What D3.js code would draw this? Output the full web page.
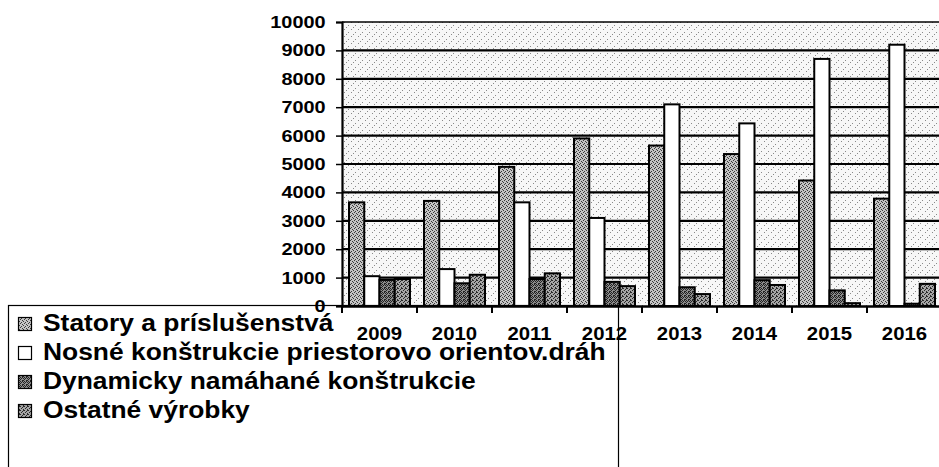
<!DOCTYPE html>
<html>
<head>
<meta charset="utf-8">
<script src="https://cdn.jsdelivr.net/npm/d3@7"></script>
<style>
  body { margin: 0; background: #fff; }
  svg { display: block; font-family: "Liberation Sans", Arial, sans-serif; font-weight: bold; }
</style>
</head>
<body>
<script>
// chart values
var years = ['2009', '2010', '2011', '2012', '2013', '2014', '2015', '2016'];
var seriesNames = ['Statory a príslušenstvá', 'Nosné konštrukcie priestorovo orientov.dráh',
                   'Dynamicky namáhané konštrukcie', 'Ostatné výrobky'];
var statory = [3650, 3700, 4900, 5900, 5650, 5350, 4420, 3780];
var nosne = [1050, 1300, 3650, 3100, 7100, 6430, 8700, 9200];
var dynamicky = [920, 800, 950, 850, 660, 910, 550, 80];
var ostatne = [950, 1100, 1150, 700, 420, 740, 100, 780];
var yTicks = [0, 1000, 2000, 3000, 4000, 5000, 6000, 7000, 8000, 9000, 10000];

var w = 939;
var h = 467;

var series = [statory, nosne, dynamicky, ostatne];
var fills = ['url(#pStat)', '#fff', 'url(#pDyn)', 'url(#pOst)'];

var svg = d3.select('body')
            .append('svg')
            .attr('width', w)
            .attr('height', h);

// stipple patterns like the scanned original
var defs = svg.append('defs');
function stipple(id, base, dot, pts, size) {
    var p = defs.append('pattern')
        .attr('id', id)
        .attr('patternUnits', 'userSpaceOnUse')
        .attr('width', size)
        .attr('height', size);
    p.append('rect').attr('width', size).attr('height', size).attr('fill', base);
    pts.forEach(function(q) {
        p.append('rect').attr('x', q[0]).attr('y', q[1]).attr('width', 1).attr('height', 1).attr('fill', dot);
    });
}
stipple('pBg', '#f7f7f7', '#8a8a8a', [[1, 1], [5, 4], [3, 6]], 7);
stipple('pStat', '#c4c4c4', '#3a3a3a', [[0, 0], [2, 1], [1, 3], [3, 2]], 4);
stipple('pDyn', '#8c8c8c', '#222', [[0, 0], [2, 0], [1, 1], [3, 1], [0, 2], [2, 3], [3, 3]], 4);
stipple('pOst', '#a6a6a6', '#2a2a2a', [[0, 0], [2, 1], [1, 2], [3, 3], [3, 0]], 4);

var x = d3.scaleBand()
          .domain(years)
          .range([342, 942])
          .padding(0);

var xs = d3.scaleBand()
           .domain(d3.range(series.length))
           .range([7, 68])
           .padding(0);

var y = d3.scaleLinear()
          .domain([0, 10000])
          .range([306, 22]);

// plot background
svg.append('rect')
   .attr('x', x.range()[0])
   .attr('y', y(10000))
   .attr('width', x.range()[1] - x.range()[0])
   .attr('height', y(0) - y(10000))
   .attr('fill', 'url(#pBg)');

// grid lines
svg.append('g')
   .selectAll('line')
   .data(yTicks.slice(1))
   .join('line')
   .attr('x1', x.range()[0])
   .attr('x2', x.range()[1])
   .attr('y1', function(d) { return y(d); })
   .attr('y2', function(d) { return y(d); })
   .attr('stroke', '#000')
   .attr('stroke-width', function(d) { return d == 10000 ? 1.5 : 2.2; });

// bars
var groups = svg.append('g')
   .selectAll('g')
   .data(years)
   .join('g')
   .attr('transform', function(d) { return 'translate(' + x(d) + ',0)'; });

groups.selectAll('rect')
   .data(function(d, i) { return series.map(function(s, k) { return { k: k, v: s[i] }; }); })
   .join('rect')
   .attr('x', function(d) { return xs(d.k); })
   .attr('y', function(d) { return y(d.v); })
   .attr('width', xs.bandwidth())
   .attr('height', function(d) { return y(0) - y(d.v); })
   .attr('fill', function(d) { return fills[d.k]; })
   .attr('stroke', '#000')
   .attr('stroke-width', 2);

// y axis
var yAxis = svg.append('g')
   .attr('transform', 'translate(' + x.range()[0] + ',0)')
   .call(d3.axisLeft(y).tickValues(yTicks).tickSize(6).tickPadding(8).tickFormat(d3.format('d')));
yAxis.select('.domain').attr('stroke-width', 2.2);
yAxis.selectAll('line').attr('stroke-width', 1.5);
yAxis.selectAll('text')
     .attr('font-size', 17)
     .attr('fill', '#000')
     .attr('transform', 'scale(1.17,1)');

// x axis: labels in the middle, ticks on the category edges
var xAxis = svg.append('g')
   .attr('transform', 'translate(0,' + y(0) + ')')
   .call(d3.axisBottom(x).tickSize(0).tickPadding(21));
xAxis.select('.domain').attr('stroke-width', 2.5);
xAxis.selectAll('text')
     .attr('font-size', 18.5)
     .attr('fill', '#000')
     .attr('transform', 'scale(1.1,1)');
xAxis.selectAll('.edge')
     .data(years.concat(['end']))
     .join('line')
     .attr('class', 'edge')
     .attr('x1', function(d) { return d == 'end' ? x.range()[1] : x(d); })
     .attr('x2', function(d) { return d == 'end' ? x.range()[1] : x(d); })
     .attr('y1', 0)
     .attr('y2', 7)
     .attr('stroke', '#000')
     .attr('stroke-width', 2);

// legend box (no fill, drawn over the axis labels)
var legend = svg.append('g');
legend.append('rect')
      .attr('x', 8.5)
      .attr('y', 305.5)
      .attr('width', 610)
      .attr('height', 200)
      .attr('fill', 'none')
      .attr('stroke', '#000')
      .attr('stroke-width', 1.2);

var items = legend.selectAll('.item')
      .data(seriesNames)
      .join('g')
      .attr('class', 'item')
      .attr('transform', function(d, i) { return 'translate(0,' + (331 + i * 29) + ')'; });

items.append('rect')
     .attr('x', 18.5)
     .attr('y', -13.5)
     .attr('width', 13)
     .attr('height', 13)
     .attr('fill', function(d, i) { return fills[i]; })
     .attr('stroke', '#000')
     .attr('stroke-width', 1.2);

items.append('text')
     .attr('transform', 'translate(43,0) scale(1.1,1)')
     .attr('font-size', 24)
     .text(function(d) { return d; });
</script>
</body>
</html>
